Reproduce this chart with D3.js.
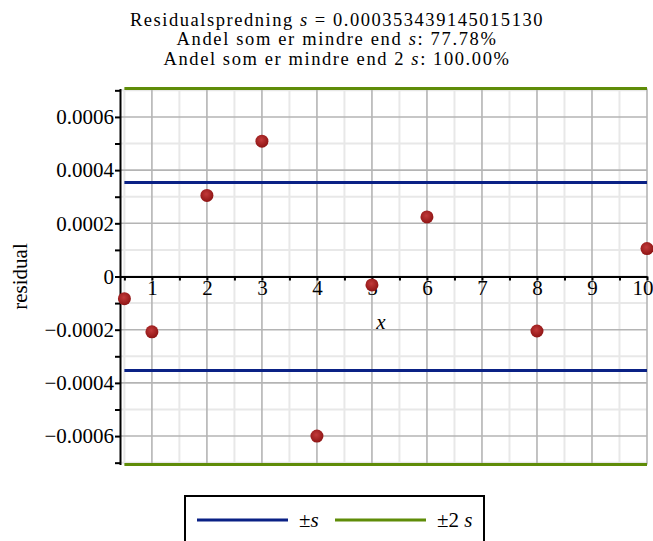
<!DOCTYPE html>
<html>
<head>
<meta charset="utf-8">
<script src="https://cdn.jsdelivr.net/npm/d3@7"></script>
<style>
  body { margin: 0; background: #fff; }
  svg text { font-family: "Liberation Serif", "Times New Roman", "DejaVu Serif", serif; }
</style>
</head>
<body>
<div id="chart"></div>
<script>
// residualer aflæst fra plottet
const xs = [0.5, 1, 2, 3, 4, 5, 6, 8, 10];
const residuals = [-0.0000835, -0.000208, 0.000305, 0.000509, -0.000600, -0.0000318, 0.000224, -0.000205, 0.000105];
const s = 0.000353439145015130;
const xTicks = [1, 2, 3, 4, 5, 6, 7, 8, 9, 10];
const xMinor = [0.5, 1.5, 2.5, 3.5, 4.5, 5.5, 6.5, 7.5, 8.5, 9.5];
const yTicks = [-0.0006, -0.0004, -0.0002, 0, 0.0002, 0.0004, 0.0006];
const yMinor = [-0.0007, -0.0005, -0.0003, -0.0001, 0.0001, 0.0003, 0.0005, 0.0007];
const titleLines = [
  ['Residualspredning ', ['s', true], ' = 0.000353439145015130'],
  ['Andel som er mindre end ', ['s', true], ': 77.78%'],
  ['Andel som er mindre end 2 ', ['s', true], ': 100.00%']
];
const titleWidths = [414, 321, 347];

const width = 653, height = 541;
const FONT = 21;
const svg = d3.select('#chart').append('svg')
  .attr('width', width)
  .attr('height', height);

const x = d3.scaleLinear().domain([0.42, 10]).range([120, 647]);
const y = d3.scaleLinear().domain([-2 * s, 2 * s]).range([464.5, 88.5]);

// gitter
const grid = svg.append('g');
grid.selectAll('.vminor').data(xMinor).enter().append('line')
  .attr('x1', d => x(d)).attr('x2', d => x(d))
  .attr('y1', y(-2 * s)).attr('y2', y(2 * s))
  .attr('stroke', '#e8e8e8').attr('stroke-width', 2);
grid.selectAll('.hminor').data(yMinor).enter().append('line')
  .attr('x1', x(0.42)).attr('x2', x(10))
  .attr('y1', d => y(d)).attr('y2', d => y(d))
  .attr('stroke', '#e8e8e8').attr('stroke-width', 2);
grid.selectAll('.vmajor').data(xTicks).enter().append('line')
  .attr('x1', d => x(d)).attr('x2', d => x(d))
  .attr('y1', y(-2 * s)).attr('y2', y(2 * s))
  .attr('stroke', '#b4b4b4').attr('stroke-width', 1.6);
grid.selectAll('.hmajor').data(yTicks).enter().append('line')
  .attr('x1', x(0.42)).attr('x2', x(10))
  .attr('y1', d => y(d)).attr('y2', d => y(d))
  .attr('stroke', '#b4b4b4').attr('stroke-width', 1.6);

// ±s og ±2s linjer
const bands = [
  { v: s, color: '#0a2185' }, { v: -s, color: '#0a2185' },
  { v: 2 * s, color: '#5f8c08' }, { v: -2 * s, color: '#5f8c08' }
];
svg.selectAll('.band').data(bands).enter().append('line')
  .attr('x1', x(0.5)).attr('x2', x(10))
  .attr('y1', d => y(d.v)).attr('y2', d => y(d.v))
  .attr('stroke', d => d.color).attr('stroke-width', 3);

// akser
const xAxis = svg.append('g')
  .attr('transform', `translate(0,${y(0)})`)
  .call(d3.axisBottom(x).tickValues(xTicks.concat(xMinor)).tickSize(4).tickSizeOuter(0)
    .tickFormat(d => Number.isInteger(d) ? d : ''));
xAxis.attr('font-family', null).attr('font-size', FONT);
xAxis.select('.domain').attr('stroke-width', 2);
xAxis.selectAll('.tick line').attr('stroke-width', 2);
xAxis.selectAll('.tick text')
  .attr('y', 4).attr('dy', '0.71em').attr('fill', '#000');
// "10" skubbes lidt ind så den ikke klippes
xAxis.selectAll('.tick text').filter(d => d === 10)
  .attr('text-anchor', 'end').attr('x', 6);

const yAxis = svg.append('g')
  .attr('transform', `translate(${x(0.42)},0)`)
  .call(d3.axisLeft(y).tickValues(yTicks.concat(yMinor)).tickSize(5).tickSizeOuter(0)
    .tickFormat(d => yTicks.includes(d) ? (d === 0 ? '0' : (d < 0 ? '\u2212' : '') + Math.abs(d).toFixed(4)) : ''));
yAxis.attr('font-family', null).attr('font-size', FONT);
yAxis.select('.domain').attr('stroke-width', 2);
yAxis.selectAll('.tick line').attr('stroke-width', 2);
yAxis.selectAll('.tick text')
  .attr('x', -6).attr('fill', '#000');

// punkter
const grad = svg.append('defs').append('radialGradient')
  .attr('id', 'dot').attr('cx', '45%').attr('cy', '40%').attr('r', '60%');
grad.append('stop').attr('offset', '0%').attr('stop-color', '#c23a3a');
grad.append('stop').attr('offset', '100%').attr('stop-color', '#8e1414');

svg.selectAll('.pt').data(xs.map((d, i) => [d, residuals[i]])).enter().append('circle')
  .attr('cx', d => x(d[0])).attr('cy', d => y(d[1]))
  .attr('r', 6.5).attr('fill', 'url(#dot)');

// aksetitler
svg.append('text')
  .attr('x', 381).attr('y', 329)
  .attr('text-anchor', 'middle').attr('font-size', FONT).attr('font-style', 'italic')
  .text('x');
svg.append('text')
  .attr('transform', `translate(27,${y(0)}) rotate(-90)`)
  .attr('text-anchor', 'middle').attr('font-size', FONT)
  .text('residual');

// titel - Maple spreder bogstaverne lidt, så letter-spacing tilpasses bredden
titleLines.forEach((line, i) => {
  const t = svg.append('text')
    .attr('x', 337).attr('y', 26 + i * 19.3)
    .attr('text-anchor', 'middle').attr('font-size', 18.5)
    .style('white-space', 'pre');
  line.forEach(part => {
    const sp = t.append('tspan');
    if (Array.isArray(part)) sp.attr('font-style', 'italic').text(part[0]);
    else sp.text(part);
  });
  const natural = t.node().getComputedTextLength();
  const n = t.text().length;
  t.style('letter-spacing', ((titleWidths[i] - natural) / n) + 'px');
});

// signaturforklaring
const legend = svg.append('g');
legend.append('rect')
  .attr('x', 185).attr('y', 496).attr('width', 299).attr('height', 60)
  .attr('fill', 'none').attr('stroke', '#000').attr('stroke-width', 2);
const items = [
  { color: '#0a2185', x0: 197, two: false },
  { color: '#5f8c08', x0: 335, two: true }
];
items.forEach(it => {
  legend.append('line')
    .attr('x1', it.x0).attr('x2', it.x0 + 91).attr('y1', 520).attr('y2', 520)
    .attr('stroke', it.color).attr('stroke-width', 3);
  const t = legend.append('text').attr('x', it.x0 + 102).attr('y', 527)
    .attr('font-size', FONT).style('white-space', 'pre');
  t.append('tspan').text(it.two ? '\u00b12 ' : '\u00b1');
  t.append('tspan').attr('font-style', 'italic').text('s');
});
</script>
</body>
</html>
